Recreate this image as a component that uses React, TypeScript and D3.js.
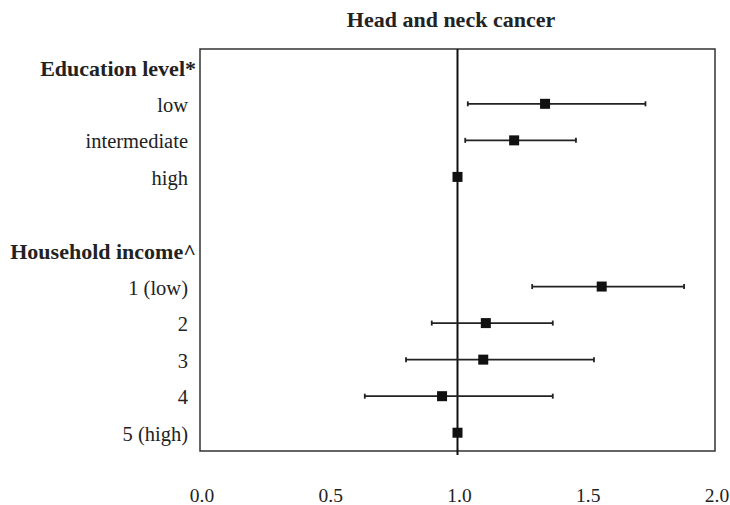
import React from 'react';
import * as d3 from 'd3';

// rows, top to bottom; null = no estimate (group header or spacer)
const rowLabels = [
  'Education level*', 'low', 'intermediate', 'high', '',
  'Household income^', '1 (low)', '2', '3', '4', '5 (high)',
];
const headerRows = ['Education level*', 'Household income^'];
const estimates = [null, 1.34, 1.22, 1.0, null, null, 1.56, 1.11, 1.10, 0.94, 1.0];
const lowerCI = [null, 1.04, 1.03, null, null, null, 1.29, 0.90, 0.80, 0.64, null];
const upperCI = [null, 1.73, 1.46, null, null, null, 1.88, 1.37, 1.53, 1.37, null];
const xTicks = [0, 0.5, 1, 1.5, 2];

const W = 730;
const H = 505;
const box = { left: 200, right: 715, top: 49, bottom: 451 };
const font = '"Liberation Serif", "Times New Roman", serif';

export default function App() {
  const x = d3.scaleLinear().domain([0, 2]).range([box.left, box.right]);
  const y = d3
    .scalePoint<number>()
    .domain(d3.range(rowLabels.length))
    .range([box.top, box.bottom])
    .padding(0.5);

  return (
    <svg
      width={W}
      height={H}
      style={{ position: 'absolute', left: 0, top: 0, background: '#fff' }}
      fontFamily={font}
    >
      <text x={451} y={27} textAnchor="middle" fontWeight="bold" fontSize={22} fill="#222">
        Head and neck cancer
      </text>

      {/* plot frame */}
      <rect
        x={box.left}
        y={box.top}
        width={box.right - box.left}
        height={box.bottom - box.top}
        fill="none"
        stroke="#333"
        strokeWidth={1.5}
      />

      {/* reference line at 1 */}
      <line x1={x(1)} x2={x(1)} y1={box.top} y2={box.bottom + 4} stroke="#111" strokeWidth={2} />

      {/* row labels */}
      {rowLabels.map((lab, i) => {
        const isHeader = headerRows.includes(lab);
        return (
          <text
            key={'l' + i}
            x={isHeader ? 196 : 188}
            y={(y(i) as number) + (isHeader ? 9 : 8)}
            textAnchor="end"
            fontSize={isHeader ? 22 : 20.5}
            fontWeight={isHeader ? 'bold' : 'normal'}
            fill="#222"
          >
            {lab}
          </text>
        );
      })}

      {/* error bars */}
      {estimates.map((est, i) => {
        const lo = lowerCI[i];
        const hi = upperCI[i];
        if (lo == null || hi == null) return null;
        const cy = y(i) as number;
        return (
          <g key={'e' + i} stroke="#222" strokeWidth={1.8}>
            <line x1={x(lo)} x2={x(hi)} y1={cy} y2={cy} />
            <line x1={x(lo)} x2={x(lo)} y1={cy - 2.5} y2={cy + 2.5} />
            <line x1={x(hi)} x2={x(hi)} y1={cy - 2.5} y2={cy + 2.5} />
          </g>
        );
      })}

      {/* point estimates */}
      {estimates.map((est, i) =>
        est == null ? null : (
          <rect
            key={'p' + i}
            x={x(est) - 5}
            y={(y(i) as number) - 5}
            width={10}
            height={10}
            fill="#111"
          />
        )
      )}

      {/* x tick labels */}
      {xTicks.map(t => (
        <text key={'t' + t} x={x(t) + 2} y={502} textAnchor="middle" fontSize={19.5} fill="#222">
          {d3.format('.1f')(t)}
        </text>
      ))}
    </svg>
  );
}
